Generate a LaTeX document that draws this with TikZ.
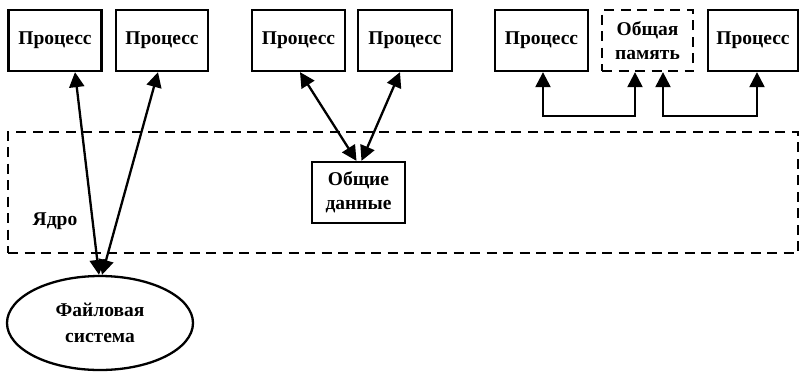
\documentclass[tikz,border=0pt]{standalone}
\usepackage{fontspec}
\setmainfont{Liberation Serif}
\usetikzlibrary{arrows.meta,shapes.geometric}
\tikzset{
  txt/.style={font=\fontsize{19.5}{24}\selectfont\bfseries},
  box/.style={draw, line width=2.3pt, minimum width=93pt, minimum height=61pt, inner sep=0pt, align=center, txt},
  dbox/.style={box, dashed, dash pattern=on 10pt off 6.5pt},
  conn/.style={line width=2.3pt, {Triangle[length=15pt,width=15pt]}-{Triangle[length=15pt,width=15pt]}},
  lbl/.style={txt, inner sep=0pt}
}
\begin{document}
\begin{tikzpicture}[x=1pt,y=-1pt]
\useasboundingbox (0,0) rectangle (800,373);
\node[box] (p1) at (55,40.5) {Процесс};
\node[box, minimum width=92pt] (p2) at (162,40.5) {Процесс};
\node[box] (p3) at (298.5,40.5) {Процесс};
\node[box, minimum width=94pt] (p4) at (405,40.5) {Процесс};
\node[box] (p5) at (541.5,40.5) {Процесс};
\node[dbox, minimum width=91pt] (op) at (647.5,40.5) {Общая\\память};
\node[box, minimum width=90pt] (p6) at (753,40.5) {Процесс};
\node[dbox, minimum width=790pt, minimum height=121pt] (kern) at (403,192.5) {};
\node[lbl] (yadro) at (55,221) {Ядро};
\node[box] (od) at (358.5,192.5) {Общие\\данные};
\node[draw, ellipse, line width=2.3pt, minimum width=186pt, minimum height=94pt, inner sep=0pt, align=center, font=\fontsize{19.5}{26}\selectfont\bfseries] (fs) at (100,323) {Файловая\\система};
\draw[conn] ([xshift=20pt]p1.south) -- ([xshift=-1pt]fs.north);
\draw[conn] ([xshift=-4pt]p2.south) -- ([xshift=2pt]fs.north);
\draw[conn] ([xshift=1.5pt]p3.south) -- ([xshift=-2pt]od.north);
\draw[conn] ([xshift=-5pt]p4.south) -- ([xshift=3pt]od.north);
\draw[conn] ([xshift=1.5pt]p5.south) -- ++(0,44) -| ([xshift=-12.5pt]op.south);
\draw[conn] ([xshift=15.5pt]op.south) -- ++(0,44) -| ([xshift=4pt]p6.south);
\end{tikzpicture}
\end{document}
